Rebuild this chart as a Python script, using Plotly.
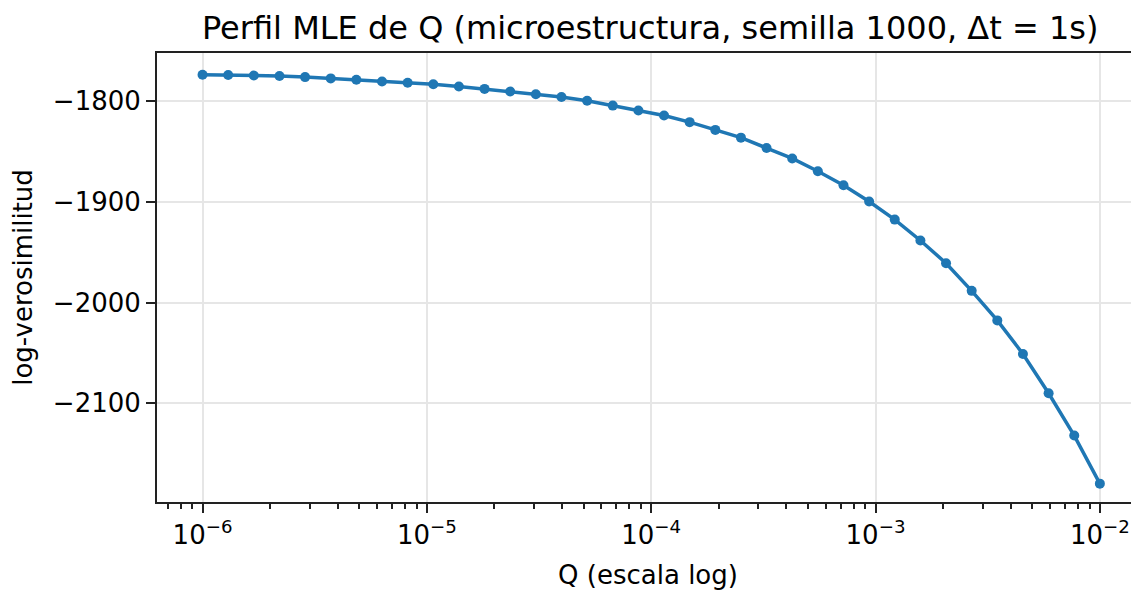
import plotly.graph_objects as go

# Data
q_values = [1.000e-6, 1.301e-6, 1.693e-6, 2.203e-6, 2.865e-6, 3.728e-6, 4.850e-6, 6.310e-6,
            8.210e-6, 1.068e-5, 1.389e-5, 1.808e-5, 2.352e-5, 3.060e-5, 3.981e-5, 5.180e-5,
            6.739e-5, 8.769e-5, 1.141e-4, 1.484e-4, 1.931e-4, 2.512e-4, 3.268e-4, 4.252e-4,
            5.532e-4, 7.197e-4, 9.365e-4, 1.218e-3, 1.585e-3, 2.062e-3, 2.683e-3, 3.490e-3,
            4.541e-3, 5.909e-3, 7.688e-3, 1.000e-2]
loglik = [-1774.0, -1774.2, -1774.8, -1775.2, -1776.3, -1777.6, -1779.0, -1780.6,
          -1782.0, -1783.4, -1785.6, -1788.0, -1790.6, -1793.3, -1796.0, -1799.8,
          -1804.6, -1809.5, -1814.4, -1821.0, -1828.7, -1836.4, -1846.7, -1857.0,
          -1869.7, -1883.7, -1899.7, -1917.7, -1938.4, -1961.0, -1988.4, -2017.7,
          -2051.0, -2090.0, -2132.0, -2179.7]

x_tickvals = [1e-6, 1e-5, 1e-4, 1e-3, 1e-2]
x_ticktext = ["10<sup>−6</sup>", "10<sup>−5</sup>", "10<sup>−4</sup>", "10<sup>−3</sup>", "10<sup>−2</sup>"]
y_tickvals = [-1800, -1900, -2000, -2100]
y_ticktext = ["−1800", "−1900", "−2000", "−2100"]

title_text = "Perfil MLE de Q (microestructura, semilla 1000, Δt = 1s)"
x_label = "Q (escala log)"
y_label = "log-verosimilitud"

FONT = "DejaVu Sans"
AXC = "#222222"
GRID = "#e6e6e6"

fig = go.Figure()
fig.add_trace(go.Scatter(
    x=q_values, y=loglik, mode="lines+markers",
    line=dict(color="#1f77b4", width=3.5),
    marker=dict(color="#1f77b4", size=10),
    showlegend=False,
))

# The page body has an 8px margin: size the figure so it fills the window.
W, H = 1131, 582
L, T, B = 148.7, 45.3, 88.3
decade_px = 224.4
x_left = -6.203
x_right = x_left + (W - L) / decade_px

fig.update_layout(
    width=W, height=H,
    margin=dict(l=L, r=0, t=T, b=B, pad=0),
    paper_bgcolor="white", plot_bgcolor="white",
    font=dict(family=FONT, size=26, color="black"),
    title=dict(text=title_text, x=642.2 / W, xanchor="center", xref="container",
               y=1 - 19.7 / H, yanchor="middle", yref="container",
               font=dict(family=FONT, size=32, color="black")),
    xaxis=dict(
        type="log", range=[x_left, x_right],
        tickvals=x_tickvals, ticktext=x_ticktext,
        showgrid=True, gridcolor=GRID, gridwidth=2,
        showline=True, linecolor=AXC, linewidth=2, mirror=True,
        ticks="outside", ticklen=9, tickwidth=2, tickcolor=AXC,
        minor=dict(ticks="outside", ticklen=5, tickwidth=1.5, tickcolor=AXC,
                   showgrid=False, dtick="D1"),
        zeroline=False,
        title=dict(text=x_label, standoff=17, font=dict(family=FONT, size=26)),
        tickfont=dict(family=FONT, size=26),
    ),
    yaxis=dict(
        range=[-2197.9, -1752.4],
        tickvals=y_tickvals, ticktext=y_ticktext,
        showgrid=True, gridcolor=GRID, gridwidth=2,
        showline=True, linecolor=AXC, linewidth=2, mirror=False,
        ticks="outside", ticklen=9, tickwidth=2, tickcolor=AXC,
        zeroline=False,
        title=dict(text=y_label, standoff=16, font=dict(family=FONT, size=26)),
        tickfont=dict(family=FONT, size=26),
    ),
)

fig.write_html("out.html")
